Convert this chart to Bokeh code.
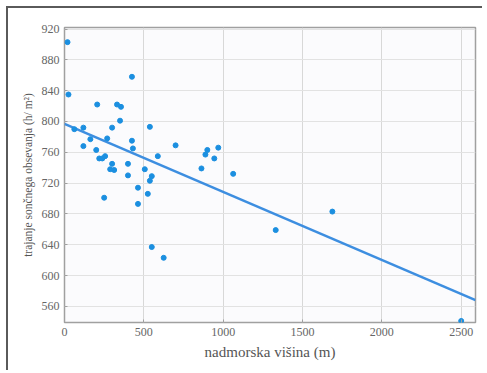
import numpy as np
from bokeh.plotting import figure
from bokeh.models import FixedTicker
from bokeh.embed import file_html
from bokeh.resources import INLINE

# data
altitude = [19, 425, 25, 206, 331, 356, 350, 300, 119, 62, 538, 269, 163, 425, 431, 700,
            119, 200, 256, 219, 238, 588, 900, 888, 969, 944, 300, 400, 288, 313, 506, 863,
            400, 1063, 550, 538, 463, 525, 250, 463, 550, 625, 1331, 1688, 2500]
value = [903, 858, 835, 822, 822, 819, 801, 792, 792, 790, 793, 778, 777, 775, 765, 769,
         768, 763, 755, 752, 752, 755, 763, 757, 766, 752, 745, 745, 738, 737, 738, 739,
         730, 732, 729, 723, 714, 706, 701, 693, 637, 623, 659, 683, 541]
# regression line (as drawn)
line_x = [0, 2590]
line_y = [797, 568]

x_ticks = [0, 500, 1000, 1500, 2000, 2500]
y_ticks = [560, 600, 640, 680, 720, 760, 800, 840, 880, 920]

p = figure(width=476, height=364, x_range=(0, 2590), y_range=(539, 922),
           output_backend="svg", toolbar_location=None,
           min_border_left=56, min_border_right=9, min_border_top=19, min_border_bottom=50)
p.styles = {"border-left": "2px solid #5a5a5a", "border-top": "2px solid #5a5a5a",
            "margin-left": "6px", "margin-top": "6px"}
p.background_fill_color = "#fbfbfd"
p.border_fill_color = "white"
p.outline_line_color = "#a0a0a0"
p.outline_line_width = 1.5

p.line(line_x, line_y, line_color="#3d8ee0", line_width=2.5)
p.scatter(altitude, value, size=5, color="#1b8fe0", marker="circle")

p.xaxis.ticker = FixedTicker(ticks=x_ticks)
p.yaxis.ticker = FixedTicker(ticks=y_ticks)
for ax in (p.xaxis[0], p.yaxis[0]):
    ax.axis_line_color = None
    ax.major_tick_line_color = "#a0a0a0"
    ax.major_tick_in = 3
    ax.major_tick_out = 0
    ax.minor_tick_line_color = None
    ax.major_label_text_font = "Liberation Serif"
    ax.major_label_text_font_size = "12px"
    ax.major_label_text_color = "#666666"
    ax.axis_label_text_font = "Liberation Serif"
    ax.axis_label_text_font_style = "normal"
    ax.axis_label_text_color = "#555555"
p.xaxis.axis_label = "nadmorska višina (m)"
p.xaxis.axis_label_text_font_size = "15px"
p.yaxis.axis_label = "trajanje sončnega obsevanja (h/ m²)"
p.yaxis.axis_label_text_font_size = "11.5px"
p.yaxis.axis_label_standoff = 5
p.xaxis.axis_label_standoff = 5

p.xgrid.grid_line_color = "#d8d8d8"
p.ygrid.grid_line_color = "#e2e2e2"

open("out.html", "w").write(file_html(p, INLINE))
